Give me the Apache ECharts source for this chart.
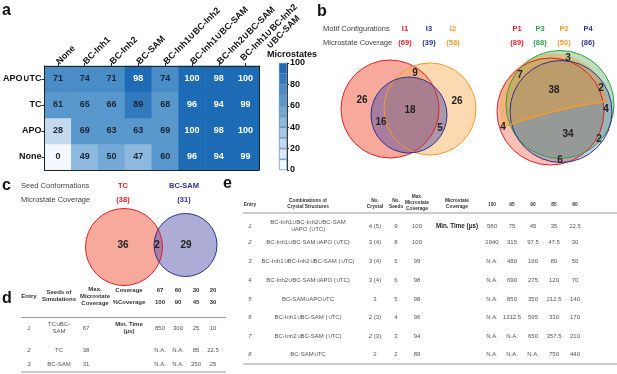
<!DOCTYPE html>
<html><head><meta charset="utf-8">
<script src="https://cdn.jsdelivr.net/npm/echarts@6/dist/echarts.min.js"></script>
<style>html,body{margin:0;padding:0;background:#fff}#c{width:617px;height:374px}</style>
</head><body><div id="c"></div>
<script>
// ---------- Panel a data ----------
const heatCols = ['None','BC-Inh1','BC-Inh2','BC-SAM','BC-Inh1\u222aBC-Inh2','BC-Inh1\u222aBC-SAM','BC-Inh2\u222aBC-SAM','BC-Inh1\u222aBC-Inh2\n\u2003\u2003\u2003\u222aBC-SAM'];
const heatRows = ['None','APO','TC','APO\u222aTC']; // bottom to top
const valsApoTc = [71,74,71,98,74,100,98,100];
const valsTc    = [61,65,66,89,68,96,94,99];
const valsApo   = [28,69,63,63,69,100,98,100];
const valsNone  = [0,49,50,47,60,96,94,99];
const colorbarTicks = [0,20,40,60,80,100];
const binEdges = [0,10,20,30,40,50,60,70,80,90,100];
const binColors = ['#f3f8fc','#deebf6','#c3d9ee','#a9c9e6','#8db9df','#74a9d6','#5898cd','#4a8cc6','#3279bd','#1d6bb4'];

// ---------- Panel b data ----------
const motifI = ['I1','I3','I2'];
const covI = [69,39,58];
const regionsI = [26,9,26,18,16,5];
const motifP = ['P1','P3','P2','P4'];
const covP = [89,88,50,86];
const regionsP = [3,7,38,2,4,4,34,2,6];

// ---------- Panel c data ----------
const seedNames = ['TC','BC-SAM'];
const seedCov = [38,31];
const seedRegions = [36,2,29];

// ---------- Panel d data ----------
const dEntries = ['1','2','3'];
const dSeeds = ['TC\u222aBC-\nSAM','TC','BC-SAM'];
const dMax = ['67','38','31'];
const dCovLevels = ['67','60','30','20'];
const dPctLevels = ['100','90','45','30'];
const dTimeRow1 = ['850','300','25','10'];
const dTimeRow2 = ['N.A.','N.A.','85','22.5'];
const dTimeRow3 = ['N.A.','N.A.','250','25'];

// ---------- Panel e data ----------
const eEntries = ['1','2','3','4','5','6','7','8'];
const eCombos = ['BC-Inh1\u222aBC-Inh2\u222aBC-SAM\n\u222aAPO (\u222aTC)','BC-Inh1\u222aBC-SAM\u222aAPO (\u222aTC)','BC-Inh1\u222aBC-Inh2\u222aBC-SAM (\u222aTC)','BC-Inh2\u222aBC-SAM\u222aAPO (\u222aTC)','BC-SAM\u222aAPO\u222aTC','BC-Inh1\u222aBC-SAM (\u222aTC)','BC-Inh2\u222aBC-SAM (\u222aTC)','BC-SAM\u222aTC'];
const eCrystal = ['4 (5)','3 (4)','3 (4)','3 (4)','3','2 (3)','2 (3)','2'];
const eSeeds = ['9','8','5','6','5','4','3','2'];
const eMax = ['100','100','99','98','98','96','94','89'];
const eCovLevels = ['100','95','90','85','80'];
const eTime100 = ['580','2040','N.A.','N.A.','N.A.','N.A.','N.A.','N.A.'];
const eTime95  = ['75','315','480','690','850','1312.5','N.A.','N.A.'];
const eTime90  = ['45','97.5','160','275','350','595','650','N.A.'];
const eTime85  = ['35','47.5','80','120','212.5','330','357.5','750'];
const eTime80  = ['22.5','30','50','70','140','170','210','440'];

const FF = 'Arial, "Liberation Sans", sans-serif';
const chart = echarts.init(document.getElementById('c'), null, {renderer:'canvas'});

// heatmap data
const rowVals = [valsNone, valsApo, valsTc, valsApoTc];
const heatData = [];
rowVals.forEach((row, yi) => row.forEach((v, xi) => {
  heatData.push({value:[xi, yi, v], label:{color: v >= 90 ? '#ffffff' : '#1a2533'}});
}));
const pieces = binColors.map((c, i) => ({gte: binEdges[i], lt: i === 9 ? 100.01 : binEdges[i+1], color: c}));

// colorbar series (stacked steps)
const cbSeries = binColors.map((c, i) => ({
  type:'bar', xAxisIndex:1, yAxisIndex:1, stack:'cb', barWidth:'100%',
  data:[binEdges[i+1]-binEdges[i]], silent:true,
  itemStyle:{color:c, borderColor:'#4a77a0', borderWidth:0.6}
}));

// ---------- graphics helpers ----------
function T(x, y, text, o) {
  o = o || {};
  return {type:'text', x:x, y:y, silent:true, z:o.z || 10, style:{
    text:text, fontSize:o.fs || 6, fontWeight:o.fw || 'normal', fontStyle:o.it ? 'italic' : 'normal',
    fontFamily:FF, fill:o.c || '#555', align:o.al || 'center', verticalAlign:'middle', lineHeight:o.lh || 7}};
}
function C(cx, cy, r, fill, stroke, z) {
  return {type:'circle', shape:{cx:cx, cy:cy, r:r}, silent:true, z:z || 1, style:{fill:fill, stroke:stroke, lineWidth:1}};
}
function L(x1, y1, x2, y2, c, w) {
  return {type:'line', shape:{x1:x1, y1:y1, x2:x2, y2:y2}, silent:true, style:{stroke:c || '#888', lineWidth:w || 1}};
}

const RED = '#e31e26', BLUE = '#2e3192', ORANGE = '#f59a2c', GREEN = '#2ca24a';
const g = [];
// panel letters
g.push(T(2, 11, 'a', {fs:16, fw:'bold', c:'#111', al:'left'}));
g.push(T(317, 12, 'b', {fs:16, fw:'bold', c:'#111', al:'left'}));
g.push(T(2, 186, 'c', {fs:16, fw:'bold', c:'#111', al:'left'}));
g.push(T(2, 299, 'd', {fs:16, fw:'bold', c:'#111', al:'left'}));
g.push(T(223, 184, 'e', {fs:16, fw:'bold', c:'#111', al:'left'}));
g.push(T(267, 55, 'Microstates', {fs:9, fw:'bold', c:'#111', al:'left'}));

// ---------- panel b ----------
g.push(T(323, 29, 'Motif Configurations', {fs:7.5, c:'#444', al:'left'}));
g.push(T(323, 43, 'Microstate Coverage', {fs:7.5, c:'#444', al:'left'}));
const iX = [405, 429, 453], iC = [RED, BLUE, ORANGE];
motifI.forEach((m, i) => { g.push(T(iX[i], 29, m, {fs:7.5, fw:'bold', c:iC[i]})); g.push(T(iX[i], 43, '(' + covI[i] + ')', {fs:7.5, fw:'bold', c:iC[i]})); });
const pX = [517, 540, 564, 588], pC = [RED, GREEN, ORANGE, BLUE];
motifP.forEach((m, i) => { g.push(T(pX[i], 29, m, {fs:7.5, fw:'bold', c:pC[i]})); g.push(T(pX[i], 43, '(' + covP[i] + ')', {fs:7.5, fw:'bold', c:pC[i]})); });
// venn I
g.push(C(390, 109, 49, 'rgba(242,112,88,0.6)', null, 1));
g.push(C(430, 109, 46, 'rgba(252,180,100,0.5)', null, 2));
g.push(C(409, 115, 38, 'rgba(70,70,165,0.45)', null, 3));
g.push(C(390, 109, 49, 'none', RED, 4));
g.push(C(430, 109, 46, 'none', ORANGE, 4));
g.push(C(409, 115, 38, 'none', BLUE, 4));
const iLab = [[362,100],[415,73],[457,101],[410,110],[381,122],[440,128]];
regionsI.forEach((v, i) => g.push(T(iLab[i][0], iLab[i][1], String(v), {fs:10, fw:'bold', c:'#222'})));
// venn P
g.push(C(550.5, 111.5, 53.5, 'rgba(242,112,88,0.45)', null, 1));
g.push(C(560, 104.5, 54, 'rgba(90,170,90,0.4)', null, 2));
g.push(C(561, 111.5, 51, 'rgba(70,90,170,0.3)', null, 3));
// orange (P2) region: arc over the top, closed by a curved chord
(function(){
  const ax = 503, ay = 127, bx = 607, by = 101, r = 54;
  const mx = (ax+bx)/2, my = (ay+by)/2, dx = bx-ax, dy = by-ay, len = Math.hypot(dx, dy);
  const h = Math.sqrt(Math.max(r*r - len*len/4, 0));
  const cx = mx + h*(dy/len), cy = my - h*(dx/len);
  let a0 = Math.atan2(ay-cy, ax-cx), a1 = Math.atan2(by-cy, bx-cx);
  while (a1 < a0) a1 += 2*Math.PI;
  const pts = [];
  for (let k = 0; k <= 60; k++) { const t = a0 + (a1-a0)*k/60; pts.push([cx + r*Math.cos(t), cy + r*Math.sin(t)]); }
  const qx = 556, qy = 108;
  for (let k = 1; k < 30; k++) { const t = k/30; const u = 1-t;
    pts.push([u*u*bx + 2*u*t*qx + t*t*ax, u*u*by + 2*u*t*qy + t*t*ay]); }
  g.push({type:'polygon', silent:true, z:4, shape:{points:pts}, style:{fill:'rgba(235,160,50,0.45)'}});
  g.push({type:'bezierCurve', silent:true, z:6, shape:{x1:ax, y1:ay, x2:bx, y2:by, cpx1:qx, cpy1:qy}, style:{fill:'none', stroke:ORANGE, lineWidth:1.3}});
})();
g.push(C(550.5, 111.5, 53.5, 'none', RED, 5));
g.push(C(560, 104.5, 54, 'none', GREEN, 5));
g.push(C(561, 111.5, 51, 'none', BLUE, 5));
const pLab = [[568,58],[520,75],[554,90],[601,88],[606,109],[503,127],[568,134],[599,139],[560,160]];
regionsP.forEach((v, i) => g.push(T(pLab[i][0], pLab[i][1], String(v), {fs:10, fw:'bold', c:'#222', z:12})));

// ---------- panel c ----------
g.push(T(21, 186, 'Seed Conformations', {fs:7.5, c:'#444', al:'left'}));
g.push(T(21, 200, 'Microstate Coverage', {fs:7.5, c:'#444', al:'left'}));
const sX = [123, 184], sC = [RED, BLUE];
seedNames.forEach((s, i) => { g.push(T(sX[i], 186, s, {fs:7.5, fw:'bold', c:sC[i]})); g.push(T(sX[i], 200, '(' + seedCov[i] + ')', {fs:7.5, fw:'bold', c:sC[i]})); });
g.push(C(124, 247, 38.5, 'rgba(242,112,88,0.6)', null, 1));
g.push(C(185.5, 245, 31.5, 'rgba(70,70,165,0.45)', null, 2));
g.push(C(124, 247, 38.5, 'none', RED, 3));
g.push(C(185.5, 245, 31.5, 'none', BLUE, 3));
const sLab = [[123,245],[157,245],[186,245]];
seedRegions.forEach((v, i) => g.push(T(sLab[i][0], sLab[i][1], String(v), {fs:10, fw:'bold', c:'#222'})));

// ---------- panel d table ----------
const H = {fw:'bold', c:'#333'};
g.push(T(29, 296, 'Entry', H));
g.push(T(59, 296, 'Seeds of\nSimulations', H));
g.push(T(95, 296, 'Max.\nMicrostate\nCoverage', H));
g.push(T(129, 290, 'Coverage', H));
g.push(T(129, 302, '%Coverage', H));
const dX = [160, 178, 196, 213];
dCovLevels.forEach((v, i) => g.push(T(dX[i], 290, v, H)));
dPctLevels.forEach((v, i) => g.push(T(dX[i], 302, v, H)));
g.push(L(21, 317.5, 226, 317.5, '#999', 1));
const dY = [328, 350, 364];
const dTimes = [dTimeRow1, dTimeRow2, dTimeRow3];
dEntries.forEach((e, r) => {
  g.push(T(29, dY[r], e, {it:true}));
  g.push(T(59, dY[r], dSeeds[r]));
  g.push(T(86, dY[r], dMax[r]));
  dTimes[r].forEach((v, i) => g.push(T(dX[i], dY[r], v)));
});
g.push(T(129, 328, 'Min. Time\n(\u03bcs)', H));
g.push(L(21, 372, 226, 372, '#999', 1));

// ---------- panel e table ----------
const HE = {fw:'bold', c:'#333', fs:4.8, lh:6};
g.push(T(250, 205, 'Entry', HE));
g.push(T(308, 203.5, 'Combinations of\nCrystal Structures', HE));
g.push(T(375, 203.5, 'No.\nCrystal', HE));
g.push(T(396, 203.5, 'No.\nSeeds', HE));
g.push(T(417, 202.5, 'Max.\nMicrostate\nCoverage', HE));
g.push(T(457, 203.5, 'Microstate\nCoverage', HE));
const eX = [492, 512, 533, 554, 575];
eCovLevels.forEach((v, i) => g.push(T(eX[i], 205, v, HE)));
g.push(L(243, 213, 617, 213, '#999', 1));
const eY = [226, 242, 261, 280, 299, 317, 336, 354];
const eTimes = [eTime100, eTime95, eTime90, eTime85, eTime80];
eEntries.forEach((e, r) => {
  g.push(T(250, eY[r], e, {it:true}));
  g.push(T(308, eY[r], eCombos[r]));
  g.push(T(375, eY[r], eCrystal[r]));
  g.push(T(396, eY[r], eSeeds[r]));
  g.push(T(417, eY[r], eMax[r]));
  eTimes.forEach((col, i) => g.push(T(eX[i], eY[r], col[r])));
});
g.push(T(457, 226, 'Min. Time (\u03bcs)', {fw:'bold', c:'#222', fs:6.3}));
g.push(L(243, 364, 617, 364, '#999', 1));

const axLine = {show:true, lineStyle:{color:'#222', width:1}};
const option = {
  animation:false,
  backgroundColor:'#ffffff',
  textStyle:{fontFamily:FF},
  grid:[
    {left:41, top:62, width:218, height:108},
    {left:279, top:63, width:8, height:107}
  ],
  xAxis:[
    {type:'category', gridIndex:0, data:heatCols, position:'top', z:5,
      axisLine:axLine, axisTick:{show:true, alignWithLabel:true, length:3, lineStyle:{color:'#222'}},
      axisLabel:{rotate:-45, interval:0, fontSize:9, fontWeight:'bold', color:'#111', margin:3, lineHeight:10, fontFamily:FF},
      splitLine:{show:false}},
    {type:'category', gridIndex:1, data:['c'], show:false},
    {type:'category', gridIndex:0, data:heatCols, position:'bottom', z:5, axisLine:axLine, axisTick:{show:false}, axisLabel:{show:false}}
  ],
  yAxis:[
    {type:'category', gridIndex:0, data:heatRows, z:5,
      axisLine:axLine, axisTick:{show:true, alignWithLabel:true, length:3, lineStyle:{color:'#222'}},
      axisLabel:{fontSize:9, fontWeight:'bold', color:'#111', margin:3, fontFamily:FF},
      splitLine:{show:false}},
    {type:'value', gridIndex:1, min:0, max:100, interval:20, position:'right',
      axisLine:{show:true, lineStyle:{color:'#333'}}, axisTick:{show:true, length:2, lineStyle:{color:'#333'}}, splitLine:{show:false},
      axisLabel:{fontSize:9, fontWeight:'bold', color:'#111', margin:3, fontFamily:FF,
        formatter:(v) => colorbarTicks.indexOf(v) >= 0 ? String(v) : ''}},
    {type:'category', gridIndex:0, data:heatRows, position:'right', z:5, axisLine:axLine, axisTick:{show:false}, axisLabel:{show:false}}
  ],
  visualMap:{type:'piecewise', show:false, seriesIndex:0, dimension:2, pieces:pieces},
  series:[
    {type:'heatmap', xAxisIndex:0, yAxisIndex:0, data:heatData,
      label:{show:true, fontSize:9, fontWeight:'bold', fontFamily:FF},
      itemStyle:{borderWidth:0}}
  ].concat(cbSeries),
  graphic:g
};
chart.setOption(option);
</script></body></html>
